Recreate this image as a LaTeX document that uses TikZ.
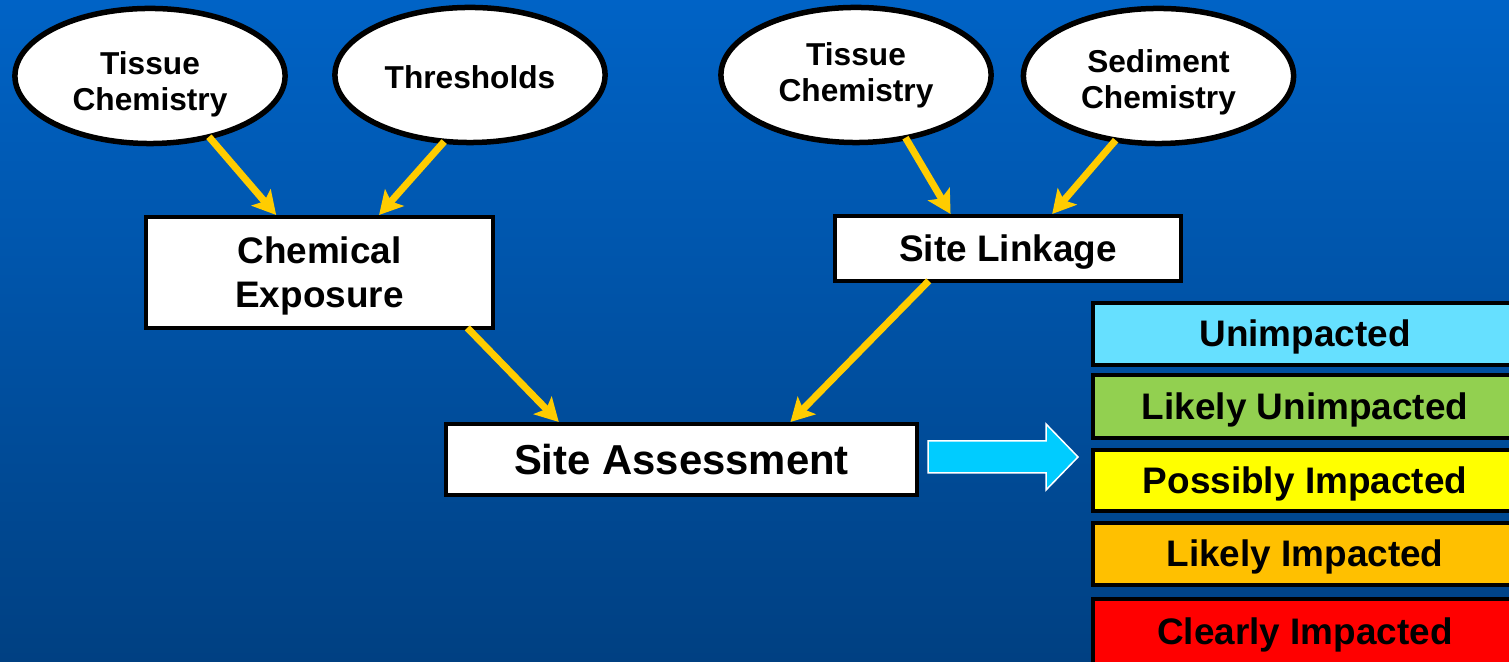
\documentclass[tikz,border=0pt]{standalone}
\usepackage{fontspec}
\setmainfont{Liberation Sans}
\usetikzlibrary{shapes.geometric,arrows.meta}
\definecolor{bgtop}{RGB}{0,99,198}
\definecolor{bgbot}{RGB}{0,64,130}
\definecolor{flowyellow}{RGB}{255,204,0}
\definecolor{blockcyan}{RGB}{0,204,255}
\definecolor{unimp}{RGB}{102,224,255}
\definecolor{likunimp}{RGB}{146,208,80}
\definecolor{posimp}{RGB}{255,255,0}
\definecolor{likimp}{RGB}{255,192,0}
\definecolor{clrimp}{RGB}{255,0,0}
\newcommand\dropby[2]{\raisebox{-#1}[\height][\depth]{#2}}

\begin{document}
\begin{tikzpicture}[x=0.01cm, y=-0.01cm,
    oval/.style={ellipse, draw=black, fill=white, line width=0.055cm, minimum width=2.7cm, minimum height=1.35cm, inner sep=0pt, align=center, font=\fontsize{9}{10.2}\selectfont\bfseries},
    stagebox/.style={rectangle, draw=black, fill=white, line width=0.04cm, inner sep=0pt, align=center, font=\fontsize{10.5}{12.5}\selectfont\bfseries},
    ratebox/.style={rectangle, draw=black, line width=0.04cm, minimum width=4.24cm, inner sep=0pt, text height=0.72em, text depth=0pt, font=\fontsize{10.5}{12.5}\selectfont\bfseries},
    flow/.style={draw=flowyellow, line width=0.07cm, shorten <=-0.03cm, -{Stealth[length=0.23cm, width=0.25cm, inset=0.05cm]}}]
    \useasboundingbox (0,0) rectangle (1509,662);
    \clip (0,0) rectangle (1509,662);
    \shade [top color=bgtop, bottom color=bgbot] (0,0) rectangle (1509,662);
    \node[oval] (ts1) at (150, 76) {\dropby{2.3pt}{Tissue}\\\dropby{2.3pt}{Chemistry}};
    \node[oval] (th) at (470, 75) {\dropby{0.6pt}{Thresholds}};
    \node[oval] (ts2) at (856, 75) {Tissue\\Chemistry};
    \node[oval] (sd) at (1158.5, 76) {\dropby{1.7pt}{Sediment}\\\dropby{1.7pt}{Chemistry}};
    \node[stagebox, minimum width=3.47cm, minimum height=1.11cm] (ce) at (319.5, 272.5) {\dropby{1pt}{Chemical}\\\dropby{1pt}{Exposure}};
    \node[stagebox, minimum width=3.465cm, minimum height=0.65cm] (sl) at (1008, 248.5) {\dropby{1.1pt}{Site Linkage}};
    \node[stagebox, minimum width=4.71cm, minimum height=0.71cm, font=\fontsize{11.9}{14}\selectfont\bfseries] (sa) at (681.5, 459.5) {Site Assessment};
    \node[ratebox, fill=unimp, minimum height=0.62cm] (u) at (1305, 334) {Unimpacted};
    \node[ratebox, fill=likunimp, minimum height=0.63cm] (lu) at (1305, 406.5) {Likely Unimpacted};
    \node[ratebox, fill=posimp, minimum height=0.61cm] (pi) at (1305, 480.5) {Possibly Impacted};
    \node[ratebox, fill=likimp, minimum height=0.62cm] (li) at (1305, 554) {Likely Impacted};
    \node[ratebox, fill=clrimp, minimum height=0.66cm] (ci) at (1305, 632) {Clearly Impacted};
    \draw [flow] (ts1.-46) to (ce.127);
    \draw [flow] (th.-112) to (ce.44);
    \draw [flow] (ts2.-52) to (sl.149);
    \draw [flow] (sd.-124) to (sl.38);
    \draw [flow] (ce.-21.5) to (sa.163.5);
    \draw [flow] (sl.203.5) to (sa.19.8);
    \draw [fill=blockcyan, draw=white, line width=0.015cm] (928,441) -- (1046,441) -- (1046,424) -- (1078,457) -- (1046,490) -- (1046,473) -- (928,473) -- cycle;
\end{tikzpicture}
\end{document}
